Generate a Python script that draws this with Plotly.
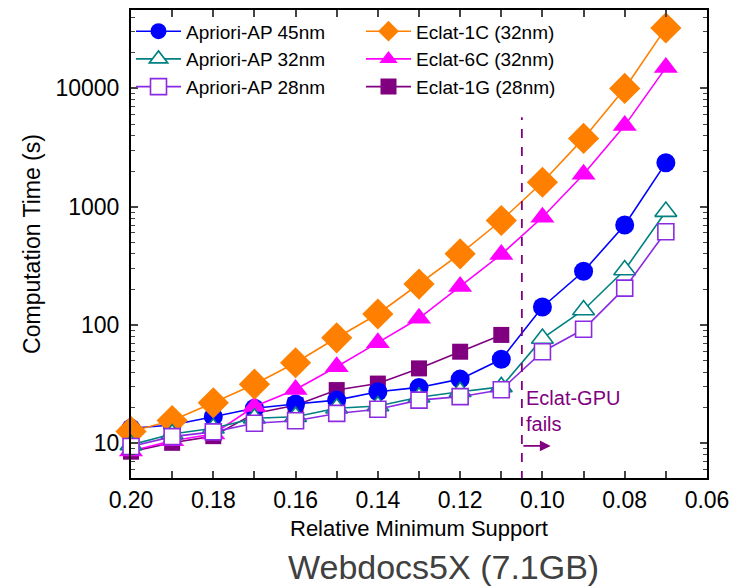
import plotly.graph_objects as go
import math

support = [0.20, 0.19, 0.18, 0.17, 0.16, 0.15, 0.14, 0.13, 0.12, 0.11, 0.10, 0.09, 0.08, 0.07]

apriori_45 = [13.4, 14.3, 16.8, 19.8, 21.5, 23.2, 27.3, 29.7, 34.9, 51.3, 142, 285, 700, 2350]
apriori_32 = [9.7, 12.0, 13.4, 16.3, 16.8, 19.8, 20.7, 24.5, 27.3, 30.0, 77, 134, 292, 910]
apriori_28 = [9.4, 11.4, 12.5, 14.8, 15.5, 17.9, 19.4, 23.2, 24.8, 28.4, 59.5, 92, 205, 615]
eclat_1c = [12.6, 15.6, 22.0, 31.6, 48.0, 78, 124, 222, 400, 765, 1610, 3780, 10000, 32500]
eclat_6c = [8.6, 10.5, 12.0, 20.5, 28.5, 44.4, 71, 114, 212, 395, 815, 1880, 4850, 15000]
eclat_1g_x = [0.20, 0.19, 0.18, 0.17, 0.16, 0.15, 0.14, 0.13, 0.12, 0.11]
eclat_1g = [8.5, 10.1, 11.5, 17.9, 21.0, 28.2, 32.0, 43.0, 59.5, 82.5]

gpu_fail_x = 0.105
gpu_line_top = 5700
arrow_y = 9.5
arrow_end_x = 0.098

x_ticks = [0.20, 0.18, 0.16, 0.14, 0.12, 0.10, 0.08, 0.06]
y_ticks = [10, 100, 1000, 10000]

FONT = "Liberation Sans, Arial, sans-serif"

fig = go.Figure()

def add(name, x, y, color, symbol, size, rank, fill=None, lw=1.6):
    fig.add_trace(go.Scatter(
        x=x, y=y, name=name, mode="lines+markers",
        line=dict(color=color, width=lw),
        marker=dict(symbol=symbol, size=size,
                    color=fill if fill else color,
                    line=dict(color=color, width=1.6 if fill else 0)),
        legendrank=rank, cliponaxis=False,
    ))

add("Eclat-1G (28nm)", eclat_1g_x, eclat_1g, "#800080", "square", 16, 6)
add("Apriori-AP 45nm", support, apriori_45, "#0000FF", "circle", 19, 1)
add("Eclat-6C (32nm)", support, eclat_6c, "#FF00FF", "triangle-up", 21, 4)
add("Eclat-1C (32nm)", support, eclat_1c, "#FF8000", "diamond", 24, 2)
add("Apriori-AP 32nm", support, apriori_32, "#008080", "triangle-up", 19, 3, fill="white")
add("Apriori-AP 28nm", support, apriori_28, "#8A2BE2", "square", 16, 5, fill="white")

# Eclat-GPU failure boundary
fig.add_shape(type="line", xref="x", yref="y", x0=gpu_fail_x, x1=gpu_fail_x,
              y0=4.9, y1=gpu_line_top, line=dict(color="#800080", width=1.8, dash="dash"))
fig.add_annotation(x=arrow_end_x, y=math.log10(arrow_y), ax=gpu_fail_x, ay=math.log10(arrow_y),
                   xref="x", yref="y", axref="x", ayref="y", text="", showarrow=True,
                   arrowhead=2, arrowsize=1.2, arrowwidth=1.8, arrowcolor="#800080")
fig.add_annotation(x=gpu_fail_x, y=math.log10(18.6), xref="x", yref="y",
                   text="Eclat-GPU<br>fails", showarrow=False, xanchor="left", yanchor="middle",
                   xshift=2, align="left", font=dict(family=FONT, size=20, color="#800080"))

fig.add_annotation(x=0.543, y=-0.190, xref="paper", yref="paper", text="Webdocs5X (7.1GB)",
                   showarrow=False, xanchor="center", yanchor="middle",
                   font=dict(family=FONT, size=34, color="#404040"))

minor_y = [m * 10 ** e for e in range(0, 5) for m in range(2, 10)]

fig.update_layout(
    width=736, height=580,
    margin=dict(l=123, r=37, t=2, b=110),
    paper_bgcolor="white", plot_bgcolor="white",
    font=dict(family=FONT, size=22, color="black"),
    showlegend=True,
    legend=dict(orientation="h", x=0.0, y=0.995, xanchor="left", yanchor="top",
                entrywidth=170, entrywidthmode="pixels", itemwidth=45,
                bgcolor="rgba(0,0,0,0)", font=dict(family=FONT, size=19, color="black"),
                tracegroupgap=0),
    xaxis=dict(range=[0.20, 0.06], tickvals=x_ticks, ticktext=[f"{v:.2f}" for v in x_ticks],
               ticks="inside", ticklen=7, tickwidth=1.5, showline=True, linewidth=2,
               linecolor="black", mirror="allticks", showgrid=False, zeroline=False,
               tickfont=dict(size=23), automargin=False,
               minor=dict(ticks="inside", ticklen=7, tickwidth=1.5, dtick=0.01, tick0=0, showgrid=False),
               title=dict(text="Relative Minimum Support", font=dict(size=22), standoff=9)),
    yaxis=dict(type="log", range=[0.707, 4.663], tickvals=y_ticks, ticktext=[str(v) for v in y_ticks],
               ticks="inside", ticklen=7, tickwidth=1.5, showline=True, linewidth=2,
               linecolor="black", mirror="allticks", showgrid=False, zeroline=False,
               tickfont=dict(size=23), ticklabelstandoff=5, automargin=False,
               minor=dict(ticks="inside", ticklen=4, tickwidth=1.2, tickvals=minor_y, showgrid=False),
               title=dict(text="Computation Time (s)", font=dict(size=23), standoff=8)),
)

fig.write_html("out.html")
